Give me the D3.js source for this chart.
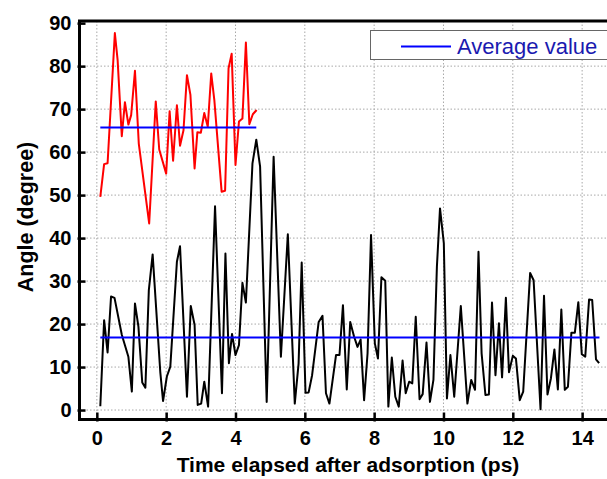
<!DOCTYPE html>
<html>
<head>
<meta charset="utf-8">
<script src="https://cdn.jsdelivr.net/npm/d3@7"></script>
<style>
  body { margin: 0; background: #fff; }
  svg { display: block; font-family: Arial, "Liberation Sans", sans-serif; }
</style>
</head>
<body>
<svg id="chart" width="607" height="479"></svg>
<script>
// data
// red series (upper)
var redT = [0.1, 0.21, 0.31, 0.52, 0.6, 0.72, 0.81, 0.91, 0.99, 1.1, 1.21, 1.51, 1.7, 1.8, 2.0, 2.1, 2.2, 2.31, 2.4, 2.5, 2.6, 2.7, 2.82, 2.9, 3.0, 3.1, 3.2, 3.3, 3.39, 3.6, 3.7, 3.8, 3.89, 4.0, 4.1, 4.2, 4.3, 4.4, 4.5, 4.61];
var redV = [49.6, 57.2, 57.4, 87.7, 81.4, 63.7, 71.6, 66.4, 68.6, 78.9, 62, 43.4, 71.8, 60.6, 55, 69.5, 58, 70.9, 61.5, 65.1, 77.9, 73.3, 56.2, 64.6, 64.5, 69.1, 65.9, 78.3, 72.1, 50.8, 51, 79.5, 82.9, 57, 67.1, 67.8, 85.5, 66.5, 68.8, 69.8];

// black series (lower)
var blackT = [0.1, 0.21, 0.31, 0.41, 0.51, 0.72, 0.91, 1.01, 1.1, 1.2, 1.31, 1.4, 1.5, 1.61, 1.83, 1.91, 2.02, 2.12, 2.31, 2.4, 2.6, 2.71, 2.82, 2.91, 3.01, 3.1, 3.21, 3.41, 3.61, 3.71, 3.81, 3.9, 4.0, 4.1, 4.2, 4.3, 4.49, 4.6, 4.71, 4.9, 5.1, 5.31, 5.51, 5.71, 5.82, 5.91, 6.02, 6.11, 6.21, 6.4, 6.51, 6.61, 6.71, 6.9, 7.0,
  7.1, 7.21, 7.31, 7.42, 7.52, 7.61, 7.71, 7.81, 7.91, 8.02, 8.11, 8.21, 8.32, 8.41, 8.51, 8.61, 8.71, 8.82, 8.91, 9.01, 9.1, 9.2, 9.31, 9.4, 9.51, 9.61, 9.71, 9.81, 9.9, 10.01, 10.1, 10.2, 10.31, 10.5, 10.69, 10.8, 10.91,
  11.01, 11.1, 11.21, 11.31, 11.4, 11.5, 11.6, 11.69, 11.8, 11.89, 12.0, 12.09, 12.2, 12.3, 12.5, 12.6, 12.8, 12.9, 13.0, 13.1, 13.2, 13.3, 13.4, 13.5, 13.59, 13.69, 13.79, 13.89, 13.99, 14.09, 14.2, 14.29, 14.4, 14.49];
var blackV = [0.9, 20.9, 13.4, 26.4, 26.1, 17.5, 12.4, 4.3, 24.8, 19.4, 6.4, 5.2, 27.9, 36.2, 8.9, 2.1, 7.8, 10.1, 34.5, 38.1, 3.1, 24.2, 19.8, 1.2, 1.5, 6.6, 0.8, 47.4, 3.9, 36.4, 10.9, 17.7, 12.8, 15.1, 29.6, 25.0, 57.4, 62.9, 56.6, 1.9, 58.9, 12.4, 40.9, 1.5, 10.8, 34.3, 4.0, 4.1, 8.1, 20.5, 21.9, 3.9, 1.5, 12.8, 12.8,
  24.4, 4.8, 20.5, 17.1, 14.7, 16.4, 2.3, 13.2, 40.7, 15.5, 12.0, 30.9, 30.1, 0.8, 12.2, 3.1, 0.8, 11.5, 3.9, 6.6, 6.2, 21.7, 2.5, 3.7, 15.7, 1.9, 7.0, 33.3, 46.9, 38.8, 2.7, 12.8, 3.1, 24.2, 1.5, 7.0, 4.7,
  36.8, 13.2, 3.5, 3.6, 25.0, 8.1, 20.2, 7.6, 26.1, 8.8, 12.6, 12.0, 2.3, 4.3, 31.9, 30.2, 0.2, 26.6, 3.6, 7.4, 14.1, 4.8, 23.4, 4.7, 5.4, 18.0, 18.0, 25.1, 13.0, 12.4, 25.7, 25.6, 11.8, 10.9];

// average values and their spans
var redAvg = 65.7, redSpan = [0.1, 4.6];
var blackAvg = 16.9, blackSpan = [0.1, 14.5];

var xTicks = [0, 2, 4, 6, 8, 10, 12, 14];
var yTicks = [0, 10, 20, 30, 40, 50, 60, 70, 80, 90];

// ----------------------------------------------------------------
var svg = d3.select("#chart");
var pl = 79.5, pr = 616.8, pt = 21, pb = 419.5;

var x = d3.scaleLinear().domain([-0.5, 15]).range([pl, pr]);
var y = d3.scaleLinear().domain([-2.2, 90.5]).range([pb, pt]);

// grid
var grid = svg.append("g")
  .attr("stroke", "#a8a8a8")
  .attr("stroke-width", 1)
  .attr("stroke-dasharray", "1.5,2");
grid.selectAll("line.v")
  .data(xTicks)
  .enter().append("line")
    .attr("x1", d => x(d)).attr("x2", d => x(d))
    .attr("y1", pt).attr("y2", pb);
grid.selectAll("line.h")
  .data(yTicks.filter(d => d < 90))
  .enter().append("line")
    .attr("x1", pl).attr("x2", pr)
    .attr("y1", d => y(d)).attr("y2", d => y(d));

// lines
var line = d3.line()
  .x(d => x(d[0]))
  .y(d => y(d[1]));

svg.append("path")
  .datum(blackT.map((t, i) => [t, blackV[i]]))
  .attr("fill", "none")
  .attr("stroke", "#000")
  .attr("stroke-width", 2)
  .attr("stroke-linejoin", "round")
  .attr("d", line);

svg.append("path")
  .datum(redT.map((t, i) => [t, redV[i]]))
  .attr("fill", "none")
  .attr("stroke", "#ff0000")
  .attr("stroke-width", 2)
  .attr("stroke-linejoin", "round")
  .attr("d", line);

// averages
[[blackSpan, blackAvg], [redSpan, redAvg]].forEach(function(a) {
  svg.append("path")
    .datum([[a[0][0], a[1]], [a[0][1], a[1]]])
    .attr("fill", "none")
    .attr("stroke", "#0000ff")
    .attr("stroke-width", 2)
    .attr("d", line);
});

// axes
var yAxis = svg.append("g")
  .attr("transform", `translate(${pl - 2},0)`)
  .call(d3.axisLeft(y).tickValues(yTicks).tickSize(-8).tickPadding(6));
var xAxis = svg.append("g")
  .attr("transform", `translate(0,${pb + 2})`)
  .call(d3.axisBottom(x).tickValues(xTicks).tickSize(-9).tickPadding(9));

[yAxis, xAxis].forEach(function(g) {
  g.select(".domain").remove();
  g.selectAll(".tick line").attr("stroke", "#000").attr("stroke-width", 2.5);
  g.selectAll(".tick text")
    .attr("fill", "#000")
    .style("font-size", "20px")
    .style("font-weight", "bold");
});

// frame
svg.append("rect")
  .attr("x", pl).attr("y", pt)
  .attr("width", pr - pl).attr("height", pb - pt)
  .attr("fill", "none")
  .attr("stroke", "#000")
  .attr("stroke-width", 3);

// axis titles
svg.append("text")
  .attr("x", 348).attr("y", 472)
  .attr("text-anchor", "middle")
  .style("font-size", "21px")
  .style("font-weight", "bold")
  .text("Time elapsed after adsorption (ps)");

svg.append("text")
  .attr("transform", "translate(33,217) rotate(-90)")
  .attr("text-anchor", "middle")
  .style("font-size", "21.5px")
  .style("font-weight", "bold")
  .text("Angle (degree)");

// legend
var leg = svg.append("g");
leg.append("rect")
  .attr("x", 370.5).attr("y", 30.5)
  .attr("width", 250).attr("height", 29)
  .attr("fill", "#fff")
  .attr("stroke", "#666")
  .attr("stroke-width", 1);
leg.append("line")
  .attr("x1", 401).attr("x2", 451)
  .attr("y1", 46.5).attr("y2", 46.5)
  .attr("stroke", "#0000ff")
  .attr("stroke-width", 2);
leg.append("text")
  .attr("x", 457).attr("y", 54)
  .attr("fill", "#1a1ab0")
  .style("font-size", "22px")
  .text("Average value");
</script>
</body>
</html>
